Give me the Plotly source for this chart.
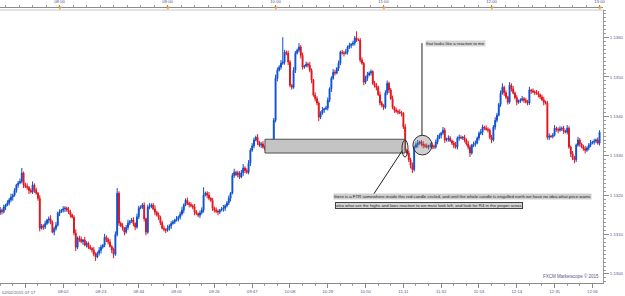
import plotly.graph_objects as go
import pandas as pd

# ---------------- data (price points = 0.00001 above BASE) ----------------
BASE = 1.1290
UNIT = 0.00001
START = "2015-02-02 07:27"
FIRST_OPEN = 255

closes_pts = [
    262, 258, 270, 275, 280, 288, 295, 300, 312, 326,
    331, 335, 356, 326, 322, 320, 312, 308, 326, 313,
    305, 292, 216, 222, 219, 228, 237, 240, 232, 206,
    215, 224, 254, 258, 262, 265, 267, 262, 257, 250,
    244, 204, 168, 191, 188, 182, 186, 173, 178, 168,
    165, 161, 150, 143, 153, 160, 168, 173, 193, 188,
    181, 170, 161, 150, 200, 305, 229, 222, 216, 206,
    218, 229, 233, 237, 228, 219, 245, 267, 270, 275,
    240, 206, 270, 272, 275, 265, 257, 250, 244, 230,
    216, 213, 211, 216, 222, 228, 232, 237, 240, 244,
    252, 262, 275, 287, 280, 276, 273, 270, 257, 253,
    249, 255, 262, 300, 305, 300, 292, 287, 267, 262,
    259, 257, 262, 264, 267, 273, 280, 292, 305, 350,
    358, 352, 356, 346, 357, 369, 362, 358, 381, 414,
    425, 440, 447, 435, 427, 430, 422, 419, 424, 427,
    432, 435, 490, 597, 617, 625, 635, 638, 663, 660,
    638, 579, 574, 617, 660, 668, 676, 655, 625, 628,
    633, 630, 617, 592, 554, 545, 534, 498, 508, 516,
    519, 521, 541, 570, 597, 612, 610, 622, 635, 663,
    661, 660, 663, 676, 680, 683, 686, 699, 694, 694,
    643, 635, 587, 597, 605, 610, 614, 584, 578, 574,
    555, 534, 528, 523, 560, 584, 567, 545, 523, 516,
    513, 511, 509, 508, 473, 414, 407, 390, 376, 365,
    422, 428, 432, 435, 430, 427, 425, 422, 425, 427,
    424, 422, 435, 445, 452, 458, 465, 440, 442, 445,
    438, 432, 427, 422, 445, 447, 445, 447, 440, 430,
    422, 407, 427, 430, 432, 445, 457, 460, 473, 470,
    467, 465, 447, 440, 473, 490, 503, 530, 559, 574,
    560, 549, 536, 579, 570, 559, 548, 536, 540, 541,
    545, 541, 537, 534, 567, 565, 562, 560, 559, 555,
    549, 542, 536, 534, 447, 450, 449, 452, 470, 467,
    465, 468, 470, 463, 460, 470, 422, 405, 394, 390,
    427, 440, 430, 422, 418, 414, 420, 427, 432, 435,
    437, 440, 432, 460,
]

up_wick_pts = [
    8, 4, 6, 3, 7, 5, 9, 4, 6, 3,
    5, 7, 13, 4, 6, 8, 3, 5, 9, 4,
    6, 3, 8, 5, 4, 7, 3, 6, 9, 4,
    5, 8, 4, 6, 3, 7, 5, 4, 8, 6,
    3, 5, 9, 4, 6, 7, 3, 8, 5, 4,
    6, 3, 7, 5, 4, 8, 6, 3, 9, 5,
    4, 7, 3, 6, 8, 13, 5, 4, 7, 3,
    6, 9, 4, 5, 7, 3, 8, 6, 4, 5,
    7, 3, 6, 8, 4, 5, 9, 3, 6, 4,
    5, 7, 3, 8, 4, 6, 5, 3, 7, 4,
    6, 8, 4, 5, 7, 3, 6, 4, 8, 5,
    3, 6, 7, 20, 4, 5, 8, 3, 6, 4,
    7, 5, 3, 6, 8, 4, 5, 7, 3, 6,
    9, 4, 6, 5, 7, 10, 4, 6, 8, 5,
    7, 6, 4, 8, 3, 5, 7, 4, 6, 3,
    5, 8, 6, 9, 7, 5, 8, 63, 6, 4,
    7, 5, 3, 8, 6, 4, 10, 5, 7, 3,
    6, 4, 8, 5, 3, 7, 6, 4, 5, 8,
    3, 6, 7, 4, 5, 8, 6, 3, 7, 4,
    6, 5, 8, 4, 7, 3, 6, 5, 17, 4,
    5, 7, 3, 6, 8, 4, 5, 3, 6, 7,
    4, 8, 5, 3, 6, 7, 4, 5, 8, 3,
    6, 4, 7, 5, 3, 8, 4, 6, 5, 7,
    4, 6, 8, 3, 5, 7, 4, 6, 3, 5,
    7, 4, 6, 8, 5, 3, 8, 6, 4, 7,
    5, 3, 6, 8, 4, 7, 5, 3, 6, 4,
    8, 5, 3, 6, 7, 4, 5, 8, 6, 3,
    7, 5, 4, 6, 5, 8, 6, 4, 7, 10,
    4, 6, 3, 8, 5, 7, 4, 6, 3, 5,
    7, 4, 6, 5, 8, 3, 6, 4, 7, 5,
    3, 6, 8, 4, 5, 7, 3, 6, 8, 4,
    5, 7, 4, 6, 3, 8, 5, 4, 7, 6,
    4, 8, 5, 3, 6, 7, 4, 5, 8, 3,
    6, 4, 7, 5,
]

down_wick_pts = [
    5, 7, 4, 8, 3, 6, 5, 9, 4, 6,
    7, 3, 5, 8, 4, 6, 9, 3, 5, 7,
    4, 6, 8, 3, 7, 5, 4, 9, 6, 3,
    8, 5, 4, 7, 3, 6, 8, 4, 5, 7,
    3, 6, 10, 5, 7, 4, 8, 3, 6, 5,
    4, 7, 5, 10, 3, 6, 8, 4, 5, 7,
    6, 3, 8, 10, 4, 5, 7, 3, 6, 8,
    4, 6, 5, 3, 7, 8, 4, 6, 3, 5,
    7, 8, 4, 6, 5, 3, 8, 4, 7, 6,
    3, 5, 7, 4, 6, 8, 3, 5, 4, 7,
    6, 4, 8, 3, 5, 7, 4, 6, 8, 3,
    5, 7, 4, 6, 3, 8, 5, 4, 7, 6,
    4, 8, 5, 3, 6, 7, 4, 5, 8, 3,
    6, 4, 7, 5, 3, 8, 6, 4, 5, 7,
    4, 6, 3, 8, 5, 7, 4, 6, 3, 5,
    7, 4, 6, 5, 8, 3, 6, 4, 7, 5,
    8, 5, 6, 4, 7, 3, 5, 8, 6, 4,
    3, 6, 5, 8, 4, 7, 6, 10, 5, 4,
    7, 3, 6, 5, 8, 4, 6, 3, 7, 5,
    4, 8, 3, 6, 5, 7, 4, 6, 5, 3,
    6, 4, 8, 5, 7, 3, 6, 4, 5, 8,
    3, 6, 5, 7, 4, 6, 8, 3, 5, 7,
    4, 6, 3, 8, 5, 7, 4, 6, 8, 9,
    5, 3, 7, 4, 6, 8, 5, 3, 6, 4,
    7, 5, 4, 6, 3, 8, 5, 7, 4, 6,
    3, 5, 8, 4, 6, 7, 3, 5, 6, 4,
    6, 10, 4, 5, 7, 3, 6, 4, 8, 5,
    3, 6, 5, 8, 4, 7, 5, 3, 6, 4,
    8, 5, 6, 4, 7, 3, 5, 8, 4, 6,
    3, 7, 4, 6, 5, 8, 3, 6, 4, 7,
    5, 3, 8, 4, 6, 7, 4, 5, 3, 6,
    8, 4, 5, 7, 3, 6, 4, 8, 5, 9,
    6, 4, 7, 3, 5, 8, 4, 6, 5, 3,
    7, 5, 4, 6,
]

bottom_tick_times = ["07:41", "08:02", "08:23", "08:44", "09:05", "09:26", "09:47", "10:08",
                     "10:29", "10:50", "11:11", "11:32", "11:53", "12:14", "12:35", "12:56"]
bottom_tick_labels = ["", "08:02", "08:23", "08:44", "09:05", "09:26", "09:47", "10:08",
                      "10:29", "10:50", "11:11", "11:32", "11:53", "12:14", "12:35", "12:56"]
first_label = "02/02/2015 07:17"
top_tick_times = ["08:00", "09:00", "10:00", "11:00", "12:00", "13:00"]
price_ticks = [1.1300, 1.1310, 1.1320, 1.1330, 1.1340, 1.1350, 1.1360]

note_top = "that looks like a reaction to me"
note_1 = ("there is a FTR somewhere inside this red candle circled, and until the whole candle "
          "is engulfed north we have no idea what price wants")
note_2 = "also what are the highs and lows reaction to we must look left, and look for R4 in the proper areas"
watermark = "FXCM Marketscope \u00a9 2015"

# ---------------- build ----------------
DAY = "2015-02-02 "
times = pd.date_range(START, periods=len(closes_pts), freq="min")
opens_pts = [FIRST_OPEN] + closes_pts[:-1]
o = [BASE + v * UNIT for v in opens_pts]
c = [BASE + v * UNIT for v in closes_pts]
h = [BASE + (max(a, b) + w) * UNIT for a, b, w in zip(opens_pts, closes_pts, up_wick_pts)]
l = [BASE + (min(a, b) - w) * UNIT for a, b, w in zip(opens_pts, closes_pts, down_wick_pts)]

BLUE = "#0b4fd0"
RED = "#e3121b"
LBL = "#55558f"
FONT = "Liberation Sans, Arial, sans-serif"

fig = go.Figure()
fig.add_trace(go.Candlestick(
    x=times, open=o, high=h, low=l, close=c,
    increasing=dict(line=dict(color=BLUE, width=1), fillcolor=BLUE),
    decreasing=dict(line=dict(color=RED, width=1), fillcolor=RED),
    whiskerwidth=0, showlegend=False, hoverinfo="skip",
))
# invisible helper trace for the top time axis
fig.add_trace(go.Scatter(x=[times[0], times[-1]], y=[c[0], c[-1]], xaxis="x2",
                         mode="markers", marker=dict(opacity=0), showlegend=False,
                         hoverinfo="skip"))

xr = [DAY + "07:26:54", DAY + "13:01:54"]
yr = [1.12977, 1.13670]

fig.update_layout(
    width=625, height=296,
    margin=dict(l=0, r=22, t=7, b=13),
    paper_bgcolor="white", plot_bgcolor="white",
    font=dict(family=FONT, size=4, color=LBL),
    showlegend=False,
    xaxis=dict(
        type="date", range=xr, rangeslider=dict(visible=False),
        showgrid=False, zeroline=False,
        showline=True, linecolor="#8a8a8a", linewidth=1,
        ticks="outside", ticklen=4, tickcolor="#8a8a8a", tickwidth=1,
        tickvals=[DAY + t for t in bottom_tick_times], ticktext=bottom_tick_labels,
        tickfont=dict(size=4.3, color=LBL),
        minor=dict(ticks="outside", ticklen=2, tickcolor="#9a9a9a",
                   tick0=DAY + "07:41", dtick=420000),
    ),
    xaxis2=dict(
        type="date", range=xr, overlaying="x", side="top", anchor="free", position=1,
        showgrid=False, zeroline=False,
        showline=True, linecolor="#8a8a8a", linewidth=1,
        ticks="outside", ticklen=2, tickcolor="#8a8a8a",
        tickvals=[DAY + t for t in top_tick_times], ticktext=top_tick_times,
        tickfont=dict(size=4.3, color=LBL),
        minor=dict(ticks="outside", ticklen=2, tickcolor="#9a9a9a",
                   tick0=DAY + "08:00", dtick=450000),
    ),
    yaxis=dict(
        range=yr, domain=[0, 0.989], side="right",
        showgrid=False, zeroline=False,
        showline=True, linecolor="#9a9a9a", linewidth=1,
        ticks="outside", ticklen=5, tickcolor="#8a8a8a",
        tickvals=price_ticks, ticktext=["%.4f" % p for p in price_ticks],
        tickfont=dict(size=4.3, color=LBL),
        minor=dict(ticks="outside", ticklen=2, tickcolor="#9a9a9a", tick0=1.13, dtick=0.0001),
    ),
)

shapes = [
    # frame line at top of plotting area
    dict(type="line", xref="x domain", yref="y domain", x0=0, x1=1, y0=1, y1=1,
         line=dict(color="#c8c8d0", width=1)),
    # grey zone
    dict(type="rect", xref="x", yref="y", x0=DAY + "09:54:06", x1=DAY + "11:11:54",
         y0=1.13307, y1=1.13342, fillcolor="#c4c4c4", line=dict(color="#505050", width=1),
         layer="above"),
    # small ellipse around red candle
    dict(type="circle", xref="x", yref="y", x0=DAY + "11:10:13", x1=DAY + "11:13:34",
         y0=1.13297, y1=1.13340, line=dict(color="#303030", width=1), layer="above"),
    # big circle
    dict(type="circle", xref="x", yref="y", x0=DAY + "11:16:18", x1=DAY + "11:26:53",
         y0=1.13302, y1=1.13352, fillcolor="rgba(120,120,120,0.35)",
         line=dict(color="#303030", width=1), layer="above"),
    # vertical pointer
    dict(type="line", xref="x", yref="y", x0=DAY + "11:21:20", x1=DAY + "11:21:20",
         y0=1.13352, y1=1.13586, line=dict(color="#202020", width=1), layer="above"),
    # diagonal pointer
    dict(type="line", xref="x", yref="y", x0=DAY + "11:10:13", x1=DAY + "10:54:07",
         y0=1.13312, y1=1.13200, line=dict(color="#202020", width=1), layer="above"),
]
fig.update_layout(shapes=shapes)

annotations = [
    dict(text=first_label, xref="paper", yref="paper", x=0, y=-0.035, xanchor="left",
         yanchor="middle", showarrow=False, font=dict(size=4.3, color=LBL)),
    dict(text=note_top, xref="paper", yref="paper", x=0.7048, y=0.866, xanchor="left",
         yanchor="middle", showarrow=False, bgcolor="#d6d6d6", borderpad=0,
         font=dict(size=4.3, color="#202020")),
    dict(text=note_1, xref="paper", yref="paper", x=0.5522, y=0.3116, xanchor="left",
         yanchor="middle", showarrow=False, bgcolor="#cfcfcf", borderpad=0,
         font=dict(size=4.3, color="#202020")),
    dict(text=note_2, xref="paper", yref="paper", x=0.5556, y=0.2826, xanchor="left",
         yanchor="middle", showarrow=False, bgcolor="#d6d6d6", bordercolor="#404040",
         borderwidth=1, borderpad=0, font=dict(size=4.3, color="#202020")),
    dict(text=watermark, xref="paper", yref="paper", x=0.9967, y=0.0072, xanchor="right",
         yanchor="bottom", showarrow=False, font=dict(size=4.5, color=LBL)),
]
for t in top_tick_times:
    annotations.append(dict(text="\u25bc", xref="x", yref="paper", x=DAY + t, y=0.998,
                            xanchor="center", yanchor="middle", showarrow=False,
                            font=dict(size=6, color="#f0a020")))
fig.update_layout(annotations=annotations)

fig.write_html("out.html")
